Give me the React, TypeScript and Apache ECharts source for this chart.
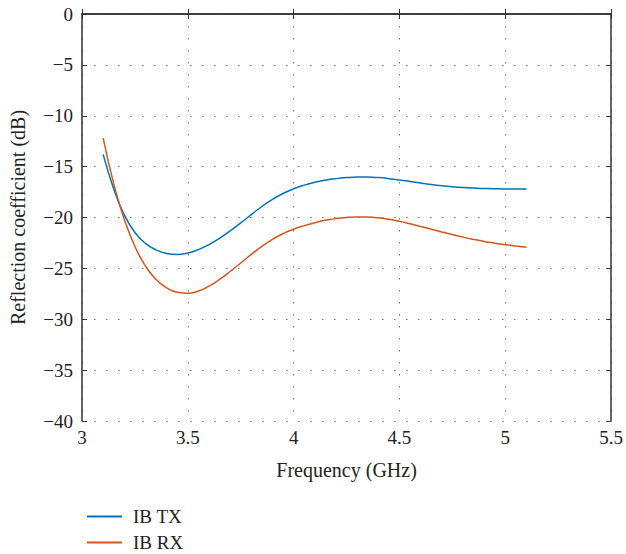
import React, { useEffect, useRef } from "react";
import * as echarts from "echarts";

const freq = [3.1, 3.15, 3.2, 3.25, 3.3, 3.35, 3.4, 3.45, 3.5, 3.55, 3.6, 3.65, 3.7, 3.75, 3.8, 3.85, 3.9, 3.95, 4.0, 4.05, 4.1, 4.15, 4.2, 4.25, 4.3, 4.35, 4.4, 4.45, 4.5, 4.55, 4.6, 4.65, 4.7, 4.75, 4.8, 4.85, 4.9, 4.95, 5.0, 5.05, 5.1];
const ibTx = [-13.8, -17.2, -19.75, -21.47, -22.55, -23.18, -23.53, -23.63, -23.49, -23.16, -22.66, -22.04, -21.32, -20.53, -19.71, -18.92, -18.22, -17.64, -17.18, -16.82, -16.54, -16.33, -16.18, -16.08, -16.03, -16.03, -16.08, -16.18, -16.31, -16.46, -16.61, -16.75, -16.87, -16.97, -17.05, -17.11, -17.15, -17.18, -17.19, -17.19, -17.19];
const ibRx = [-12.2, -16.7, -20.2, -22.85, -24.78, -26.1, -26.92, -27.35, -27.45, -27.23, -26.75, -26.09, -25.31, -24.47, -23.63, -22.84, -22.15, -21.59, -21.15, -20.8, -20.51, -20.28, -20.11, -20.0, -19.95, -19.96, -20.03, -20.18, -20.38, -20.62, -20.88, -21.15, -21.42, -21.68, -21.93, -22.15, -22.35, -22.52, -22.67, -22.8, -22.92];

const seriesNames = ["IB TX", "IB RX"];
const seriesColors = ["#0072BD", "#D95319"];

const FONT = "Liberation Serif";

export default function App() {
  const ref = useRef<HTMLDivElement>(null);
  useEffect(() => {
    if (!ref.current) return;
    const chart = echarts.init(ref.current, undefined, { renderer: "svg" });
    const axisLine = { show: true, lineStyle: { color: "#333", width: 1.5 } };
    const splitLine = { show: true, lineStyle: { color: "#777", width: 1, type: [1.5, 10.5] } };
    const tick = { show: true, inside: true, length: 5, lineStyle: { color: "#333" } };
    const mk = (vals: number[]) => freq.map((f, i) => [f, vals[i]]);
    const legendBase = {
      orient: "vertical",
      left: 82,
      icon: "rect",
      itemWidth: 35,
      itemHeight: 2,
      textStyle: { fontFamily: FONT, fontSize: 19, color: "#222", padding: [0, 0, 0, 6] },
    };
    chart.setOption({
      animation: false,
      grid: { left: 82, top: 14, width: 530, height: 407, containLabel: false },
      legend: [
        { ...legendBase, top: 502, data: [seriesNames[0]] },
        { ...legendBase, top: 528, data: [seriesNames[1]] },
      ],
      xAxis: [
        {
          type: "value",
          min: 3,
          max: 5.5,
          interval: 0.5,
          name: "Frequency (GHz)",
          nameLocation: "middle",
          nameGap: 39,
          nameTextStyle: { fontFamily: FONT, fontSize: 20, color: "#222" },
          axisLine,
          axisTick: tick,
          axisLabel: { fontFamily: FONT, fontSize: 19, color: "#222", margin: 7, formatter: (v: number) => String(v) },
          splitLine,
        },
        {
          type: "value",
          position: "top",
          min: 3,
          max: 5.5,
          interval: 0.5,
          axisLine,
          axisTick: tick,
          axisLabel: { show: false },
          splitLine: { show: false },
        },
      ],
      yAxis: [
        {
          type: "value",
          min: -40,
          max: 0,
          interval: 5,
          name: "Reflection coefficient (dB)",
          nameLocation: "middle",
          nameGap: 54,
          nameTextStyle: { fontFamily: FONT, fontSize: 20, color: "#222" },
          axisLine,
          axisTick: tick,
          axisLabel: {
            fontFamily: FONT,
            fontSize: 19,
            color: "#222",
            margin: 9,
            formatter: (v: number) => String(v).replace("-", "\u2212"),
          },
          splitLine,
        },
        {
          type: "value",
          position: "right",
          min: -40,
          max: 0,
          interval: 5,
          axisLine,
          axisTick: tick,
          axisLabel: { show: false },
          splitLine: { show: false },
        },
      ],
      series: [
        {
          name: seriesNames[0],
          type: "line",
          data: mk(ibTx),
          smooth: true,
          showSymbol: false,
          lineStyle: { color: seriesColors[0], width: 1.5 },
          itemStyle: { color: seriesColors[0] },
        },
        {
          name: seriesNames[1],
          type: "line",
          data: mk(ibRx),
          smooth: true,
          showSymbol: false,
          lineStyle: { color: seriesColors[1], width: 1.5 },
          itemStyle: { color: seriesColors[1] },
        },
      ],
    });
    return () => chart.dispose();
  }, []);
  return <div ref={ref} style={{ width: 626, height: 554, position: "absolute", left: 0, top: 0 }} />;
}
